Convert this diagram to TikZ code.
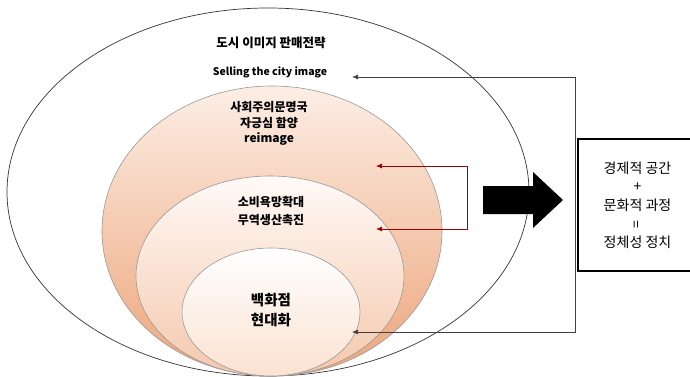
\documentclass[tikz,border=0pt]{standalone}
\usepackage{fontspec}
\setmainfont{Noto Sans CJK KR}
\usetikzlibrary{arrows.meta}
\begin{document}
\begin{tikzpicture}[x=1pt,y=-1pt,
  lbl/.style={font=\bfseries\fontsize{12}{16}\selectfont, align=center, inner sep=0pt},
  big/.style={font=\bfseries\fontsize{14.5}{18}\selectfont, align=center, inner sep=0pt},
  lat/.style={font=\bfseries\fontsize{10.5}{12}\selectfont, inner sep=0pt},
  ring/.style={draw=gray!80, line width=0.6pt},
  feed/.style={draw=black!75, line width=0.7pt, -{Latex[length=6pt,width=5pt]}},
  redfeed/.style={draw=red!60!black, line width=0.7pt, -{Latex[length=6pt,width=5pt]}},
  infobox/.style={draw=black, line width=1.6pt, minimum width=119pt, minimum height=132pt, align=center,
     font=\fontsize{14}{18.5}\selectfont}]
\useasboundingbox (0,0) rectangle (690,377);
\clip (0,0) rectangle (690,377);
% outer ellipse
\draw[black!80, line width=0.7pt] (268,192) ellipse [x radius=261, y radius=184];
% peach ellipse
\shade[top color={rgb,255:red,252;green,238;blue,229}, bottom color={rgb,255:red,237;green,165;blue,122}] (272,231) ellipse [x radius=170, y radius=145];
\draw[ring] (272,231) ellipse [x radius=170, y radius=145];
% third ellipse
\shade[top color={rgb,255:red,255;green,250;blue,247}, bottom color={rgb,255:red,244;green,200;blue,172}] (270,276) ellipse [x radius=134, y radius=100];
\draw[ring] (270,276) ellipse [x radius=134, y radius=100];
% inner ellipse
\shade[top color=white, bottom color={rgb,255:red,251;green,226;blue,210}] (271,312) ellipse [x radius=89, y radius=64];
\draw[ring] (271,312) ellipse [x radius=89, y radius=64];

% texts
\node[lbl, font=\bfseries\fontsize{12.5}{16}\selectfont] (title) at (271,43) {도시 이미지 판매전략};
\node[lat] (sell) at (270,72) {Selling the city image};
\node[lbl] (soc) at (269,107) {사회주의문명국};
\node[lbl] (pride) at (269,123) {자긍심 함양};
\node[lat, font=\bfseries\fontsize{12}{14}\selectfont] (reim) at (269,139) {reimage};
\node[lbl] (cons) at (271,202) {소비욕망확대};
\node[lbl] (trade) at (271,220) {무역생산촉진};
\node[big] (dept) at (271,300) {백화점};
\node[big] (mod) at (271,320) {현대화};

% box
\node[infobox] (box) at (637.5,205) {경제적 공간\\+\\문화적 과정\\\rotatebox{90}{=}\\정체성 정치};

% feedback lines
\coordinate (vt) at (575,77);
\coordinate (vb) at (575,332);
\coordinate (at) at (352,77);
\coordinate (ab) at (352,332);
\draw[feed] (vb) -- (vt) -- (at);
\draw[feed] (vt) |- (ab);
% red arrows
\coordinate (rt) at (467,166);
\coordinate (rb) at (467,229);
\coordinate (rta) at (376,166);
\coordinate (rba) at (376,229);
\draw[redfeed] (rb) -- (rt) -- (rta);
\draw[redfeed] (rt) |- (rba);
% big arrow
\fill[black] (483,186) -- (533,186) -- (533,172) -- (563,200) -- (533,228) -- (533,214) -- (483,214) -- cycle;
\end{tikzpicture}
\end{document}
